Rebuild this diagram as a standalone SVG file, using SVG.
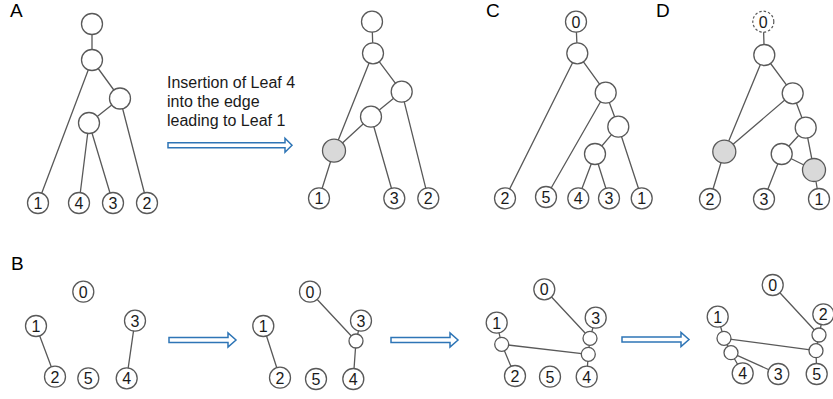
<svg xmlns="http://www.w3.org/2000/svg" width="833" height="399" viewBox="0 0 833 399">
<defs>
<style>
.e{stroke:#595959;stroke-width:1.3;fill:none}
.n{fill:#fff;stroke:#595959;stroke-width:1.3}
.g{fill:#d9d9d9;stroke:#595959;stroke-width:1.3}
.d{fill:#fff;stroke:#595959;stroke-width:1.2;stroke-dasharray:2.5 2}
.t{font-family:"Liberation Sans",Arial,sans-serif;font-size:16px;fill:#1a1a1a;text-anchor:middle;dominant-baseline:central}
.p{font-family:"Liberation Sans",Arial,sans-serif;font-size:19px;fill:#000}
.c{font-family:"Liberation Sans",Arial,sans-serif;font-size:16px;fill:#1a1a1a}
.a{fill:#fff;stroke:#2E75B6;stroke-width:1.5;stroke-linejoin:miter}
</style>
<path id="arr" class="a" d="M0,-2.5 H117 V-7 L124,0 L117,7 V2.5 H0 Z"/>
<path id="arrs" class="a" d="M0,-2.5 H59 V-7 L67,0 L59,7 V2.5 H0 Z"/>
</defs>
<rect width="833" height="399" fill="#fff"/>

<!-- panel labels -->
<text class="p" x="10" y="17">A</text>
<text class="p" x="11" y="270">B</text>
<text class="p" x="486" y="17">C</text>
<text class="p" x="656" y="17">D</text>

<text class="c" x="167" y="88">Insertion of Leaf 4</text>
<text class="c" x="167" y="107">into the edge</text>
<text class="c" x="167" y="126">leading to Leaf 1</text>

<g id="arrows">
<use href="#arr" x="168" y="145.3"/>
<use href="#arrs" x="169" y="340"/>
<use href="#arrs" x="391" y="340"/>
<use href="#arrs" x="622" y="339.5"/>
</g>

<g id="connectors">
<!-- A left -->
<path class="e" d="M92,24 L92,60 M92,60 L38,203 M92,60 L120,98.5 M120,98.5 L89,123 M89,123 L79,203 M89,123 L113,203 M120,98.5 L147,203"/>
<!-- A right -->
<path class="e" d="M372,21.7 L373,53.3 M373,53.3 L334,150.7 M373,53.3 L401.7,91.7 M401.7,91.7 L371,116.7 M371,116.7 L334,150.7 M334,150.7 L319,198.3 M371,116.7 L394.3,198.3 M401.7,91.7 L428.3,198.3"/>
<!-- C -->
<path class="e" d="M576,21.7 L577.3,53.3 M577.3,53.3 L505,198.3 M577.3,53.3 L605.7,92.7 M605.7,92.7 L546,197 M605.7,92.7 L618.3,126.7 M618.3,126.7 L595,154 M618.3,126.7 L641.7,198.3 M595,154 L578.3,198.3 M595,154 L609,198.3"/>
<!-- D -->
<path class="e" d="M763.3,21.7 L764.3,55 M764.3,55 L724.3,151.7 M764.3,55 L792.7,93.3 M792.7,93.3 L724.3,151.7 M792.7,93.3 L805.7,127.7 M805.7,127.7 L781.7,154 M805.7,127.7 L814,170 M781.7,154 L814,170 M781.7,154 L764,199 M724.3,151.7 L710,199 M814,170 L819,199"/>
<!-- B1 -->
<path class="e" d="M36,326 L55,376.7 M135,320.7 L126.7,378.3"/>
<!-- B2 -->
<path class="e" d="M263.3,326 L280,377.7 M310,291.7 L356,341 M356,341 L361,320.7 M356,341 L353.3,379"/>
<!-- B3 -->
<path class="e" d="M544.3,289.3 L590,338.3 M590,338.3 L595.7,317.7 M590,338.3 L588.3,354.3 M501.7,344.3 L496.7,322.7 M501.7,344.3 L515,376 M501.7,344.3 L588.3,354.3 M588.3,354.3 L586.7,376.7"/>
<!-- B4 -->
<path class="e" d="M772.7,285 L819,335 M819,335 L823.3,314.3 M819,335 L816,350.7 M724,338.3 L717.7,316.7 M724,338.3 L816,350.7 M724,338.3 L731,352.7 M731,352.7 L742.7,373.3 M731,352.7 L778.3,374 M816,350.7 L816.7,374"/>
</g>

<!-- Panel A left -->
<g id="A1-root"><circle class="n" cx="92" cy="24" r="10.5"/></g>
<g id="A1-n1"><circle class="n" cx="92" cy="60" r="10.5"/></g>
<g id="A1-n2"><circle class="n" cx="120" cy="98.5" r="10.5"/></g>
<g id="A1-n3"><circle class="n" cx="89" cy="123" r="10.5"/></g>
<g id="A1-l1"><circle class="n" cx="38" cy="203" r="10.5"/><text class="t" x="38" y="203.5">1</text></g>
<g id="A1-l4"><circle class="n" cx="79" cy="203" r="10.5"/><text class="t" x="79" y="203.5">4</text></g>
<g id="A1-l3"><circle class="n" cx="113" cy="203" r="10.5"/><text class="t" x="113" y="203.5">3</text></g>
<g id="A1-l2"><circle class="n" cx="147" cy="203" r="10.5"/><text class="t" x="147" y="203.5">2</text></g>

<!-- Panel A right -->
<g id="A2-root"><circle class="n" cx="372" cy="21.7" r="10.5"/></g>
<g id="A2-n1"><circle class="n" cx="373" cy="53.3" r="10.5"/></g>
<g id="A2-n2"><circle class="n" cx="401.7" cy="91.7" r="10.5"/></g>
<g id="A2-n3"><circle class="n" cx="371" cy="116.7" r="10.5"/></g>
<g id="A2-ins"><circle class="g" cx="334" cy="150.7" r="11.5"/></g>
<g id="A2-l1"><circle class="n" cx="319" cy="198.3" r="10.5"/><text class="t" x="319" y="198.8">1</text></g>
<g id="A2-l3"><circle class="n" cx="394.3" cy="198.3" r="10.5"/><text class="t" x="394.3" y="198.8">3</text></g>
<g id="A2-l2"><circle class="n" cx="428.3" cy="198.3" r="10.5"/><text class="t" x="428.3" y="198.8">2</text></g>

<!-- Panel C -->
<g id="C-l0"><circle class="n" cx="576" cy="21.7" r="10.5"/><text class="t" x="576" y="22.2">0</text></g>
<g id="C-n1"><circle class="n" cx="577.3" cy="53.3" r="10.5"/></g>
<g id="C-n2"><circle class="n" cx="605.7" cy="92.7" r="10.5"/></g>
<g id="C-n3"><circle class="n" cx="618.3" cy="126.7" r="10.5"/></g>
<g id="C-n4"><circle class="n" cx="595" cy="154" r="10.5"/></g>
<g id="C-l2"><circle class="n" cx="505" cy="198.3" r="10.5"/><text class="t" x="505" y="198.8">2</text></g>
<g id="C-l5"><circle class="n" cx="546" cy="197" r="10.5"/><text class="t" x="546" y="197.5">5</text></g>
<g id="C-l4"><circle class="n" cx="578.3" cy="198.3" r="10.5"/><text class="t" x="578.3" y="198.8">4</text></g>
<g id="C-l3"><circle class="n" cx="609" cy="198.3" r="10.5"/><text class="t" x="609" y="198.8">3</text></g>
<g id="C-l1"><circle class="n" cx="641.7" cy="198.3" r="10.5"/><text class="t" x="641.7" y="198.8">1</text></g>

<!-- Panel D -->
<g id="D-l0"><circle class="d" cx="763.3" cy="21.7" r="10.5"/><text class="t" x="763.3" y="22.2">0</text></g>
<g id="D-n1"><circle class="n" cx="764.3" cy="55" r="10.5"/></g>
<g id="D-n2"><circle class="n" cx="792.7" cy="93.3" r="10.5"/></g>
<g id="D-n3"><circle class="n" cx="805.7" cy="127.7" r="10.5"/></g>
<g id="D-n4"><circle class="n" cx="781.7" cy="154" r="10.5"/></g>
<g id="D-g1"><circle class="g" cx="724.3" cy="151.7" r="11.5"/></g>
<g id="D-g2"><circle class="g" cx="814" cy="170" r="11.5"/></g>
<g id="D-l2"><circle class="n" cx="710" cy="199" r="10.5"/><text class="t" x="710" y="199.5">2</text></g>
<g id="D-l3"><circle class="n" cx="764" cy="199" r="10.5"/><text class="t" x="764" y="199.5">3</text></g>
<g id="D-l1"><circle class="n" cx="819" cy="199" r="10.5"/><text class="t" x="819" y="199.5">1</text></g>

<!-- Panel B step 1 -->
<g id="B1-0"><circle class="n" cx="83.3" cy="291.7" r="10.5"/><text class="t" x="83.3" y="292.2">0</text></g>
<g id="B1-1"><circle class="n" cx="36" cy="326" r="10.5"/><text class="t" x="36" y="326.5">1</text></g>
<g id="B1-3"><circle class="n" cx="135" cy="320.7" r="10.5"/><text class="t" x="135" y="321.2">3</text></g>
<g id="B1-2"><circle class="n" cx="55" cy="376.7" r="10.5"/><text class="t" x="55" y="377.2">2</text></g>
<g id="B1-5"><circle class="n" cx="88.3" cy="378.3" r="10.5"/><text class="t" x="88.3" y="378.8">5</text></g>
<g id="B1-4"><circle class="n" cx="126.7" cy="378.3" r="10.5"/><text class="t" x="126.7" y="378.8">4</text></g>

<!-- Panel B step 2 -->
<g id="B2-0"><circle class="n" cx="310" cy="291.7" r="10.5"/><text class="t" x="310" y="292.2">0</text></g>
<g id="B2-1"><circle class="n" cx="263.3" cy="326" r="10.5"/><text class="t" x="263.3" y="326.5">1</text></g>
<g id="B2-3"><circle class="n" cx="361" cy="320.7" r="10.5"/><text class="t" x="361" y="321.2">3</text></g>
<g id="B2-s"><circle class="n" cx="356" cy="341" r="7"/></g>
<g id="B2-2"><circle class="n" cx="280" cy="377.7" r="10.5"/><text class="t" x="280" y="378.2">2</text></g>
<g id="B2-5"><circle class="n" cx="316" cy="379" r="10.5"/><text class="t" x="316" y="379.5">5</text></g>
<g id="B2-4"><circle class="n" cx="353.3" cy="379" r="10.5"/><text class="t" x="353.3" y="379.5">4</text></g>

<!-- Panel B step 3 -->
<g id="B3-0"><circle class="n" cx="544.3" cy="289.3" r="10.5"/><text class="t" x="544.3" y="289.8">0</text></g>
<g id="B3-1"><circle class="n" cx="496.7" cy="322.7" r="10.5"/><text class="t" x="496.7" y="323.2">1</text></g>
<g id="B3-3"><circle class="n" cx="595.7" cy="317.7" r="10.5"/><text class="t" x="595.7" y="318.2">3</text></g>
<g id="B3-s1"><circle class="n" cx="501.7" cy="344.3" r="7"/></g>
<g id="B3-s2"><circle class="n" cx="590" cy="338.3" r="7"/></g>
<g id="B3-s3"><circle class="n" cx="588.3" cy="354.3" r="7"/></g>
<g id="B3-2"><circle class="n" cx="515" cy="376" r="10.5"/><text class="t" x="515" y="376.5">2</text></g>
<g id="B3-5"><circle class="n" cx="550" cy="376.7" r="10.5"/><text class="t" x="550" y="377.2">5</text></g>
<g id="B3-4"><circle class="n" cx="586.7" cy="376.7" r="10.5"/><text class="t" x="586.7" y="377.2">4</text></g>

<!-- Panel B step 4 -->
<g id="B4-0"><circle class="n" cx="772.7" cy="285" r="10.5"/><text class="t" x="772.7" y="285.5">0</text></g>
<g id="B4-1"><circle class="n" cx="717.7" cy="316.7" r="10.5"/><text class="t" x="717.7" y="317.2">1</text></g>
<g id="B4-2"><circle class="n" cx="823.3" cy="314.3" r="10.5"/><text class="t" x="823.3" y="314.8">2</text></g>
<g id="B4-sa"><circle class="n" cx="724" cy="338.3" r="7"/></g>
<g id="B4-sb"><circle class="n" cx="731" cy="352.7" r="7"/></g>
<g id="B4-sc"><circle class="n" cx="819" cy="335" r="7"/></g>
<g id="B4-sd"><circle class="n" cx="816" cy="350.7" r="7"/></g>
<g id="B4-4"><circle class="n" cx="742.7" cy="373.3" r="10.5"/><text class="t" x="742.7" y="373.8">4</text></g>
<g id="B4-3"><circle class="n" cx="778.3" cy="374" r="10.5"/><text class="t" x="778.3" y="374.5">3</text></g>
<g id="B4-5"><circle class="n" cx="816.7" cy="374" r="10.5"/><text class="t" x="816.7" y="374.5">5</text></g>
</svg>
